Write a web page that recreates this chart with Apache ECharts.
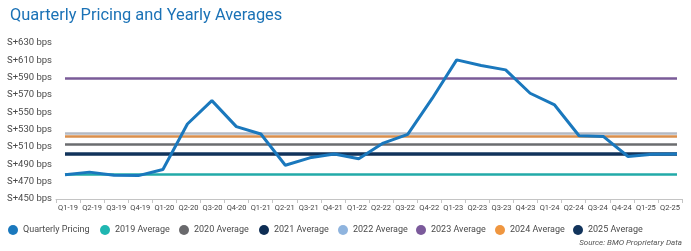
<!DOCTYPE html>
<html>
<head>
<meta charset="utf-8">
<script src="https://cdn.jsdelivr.net/npm/echarts@6/dist/echarts.min.js"></script>
<style>
  html, body { margin: 0; padding: 0; background: #fff; }
  #chart { width: 691px; height: 251px; }
</style>
</head>
<body>
<div id="chart"></div>
<script>
var FONT = 'Roboto, "Noto Sans", sans-serif';

var quarters = ['Q1-19','Q2-19','Q3-19','Q4-19','Q1-20','Q2-20','Q3-20','Q4-20','Q1-21','Q2-21','Q3-21','Q4-21','Q1-22',
                'Q2-22','Q3-22','Q4-22','Q1-23','Q2-23','Q3-23','Q4-23','Q1-24','Q2-24','Q3-24','Q4-24','Q1-25','Q2-25'];
var pricing = [478, 481, 477.5, 477, 484, 536.5, 563.5, 533.5, 525, 489, 497.5, 502, 496.5,
               514.5, 524.5, 566, 610.5, 604, 599, 572, 558.5, 523, 522, 499, 501.5, 502];
var avgNames = ['2019 Average','2020 Average','2021 Average','2022 Average','2023 Average','2024 Average','2025 Average'];
var avgValues = [478.5, 513, 502, 525.5, 589.5, 522.5, 502.5];
var avgColors = ['#22aaa8','#6b6c6f','#0e2e54','#b4bac4','#7a5b98','#da8f4c','#12345c'];
var avgLegendColors = ['#1fb6b1','#69696c','#0e2e54','#8fb4de','#7b5a9b','#ef9640','#12345c'];
var yTicks = { min: 450, max: 630, step: 20 };

var chart = echarts.init(document.getElementById('chart'));

var series = [];
avgNames.forEach(function(name, i){
    series.push({
        name: name,
        type: 'line',
        xAxisIndex: 1,
        yAxisIndex: 1,
        data: [],
        itemStyle: { color: avgLegendColors[i] },
        lineStyle: { color: avgColors[i], width: 2.5 },
        z: 2,
        markLine: {
            silent: true,
            symbol: 'none',
            animation: false,
            label: { show: false },
            lineStyle: { color: avgColors[i], width: 2.5, type: 'solid' },
            data: [{ yAxis: avgValues[i] }]
        }
    });
});
series.push({
    name: 'Quarterly Pricing',
    type: 'line',
    xAxisIndex: 1,
    yAxisIndex: 1,
    data: pricing,
    symbol: 'none',
    itemStyle: { color: '#1a78bd' },
    lineStyle: { color: '#1a78bd', width: 3 },
    z: 5
});

var legendOrder = ['Quarterly Pricing'].concat(avgNames);
var legendLeft = [8, 100, 179, 259, 338, 416, 495, 573];
var legends = legendOrder.map(function(name, i){
    return {
        data: [name],
        left: legendLeft[i],
        top: 225,
        icon: 'circle',
        itemWidth: 10,
        itemHeight: 10,
        itemGap: 0,
        padding: 0,
        selectedMode: false,
        textStyle: { fontFamily: FONT, fontSize: 9, color: '#4a4a4a' }
    };
});

var option = {
    animation: false,
    title: {
        text: 'Quarterly Pricing and Yearly Averages',
        left: 5,
        top: 3,
        textStyle: { fontFamily: FONT, fontSize: 16.4, fontWeight: 'normal', color: '#1b72b6' }
    },
    legend: legends,
    grid: [
        { left: 56, right: 9, top: 43, bottom: 52 },
        { left: 65, right: 14, top: 43, bottom: 52 }
    ],
    xAxis: [
        {
            type: 'category',
            gridIndex: 0,
            data: quarters,
            boundaryGap: true,
            axisLine: { lineStyle: { color: '#c4c4c4', width: 1 } },
            axisTick: { show: true, length: 4, lineStyle: { color: '#c4c4c4' } },
            axisLabel: { interval: 0, fontFamily: FONT, fontSize: 7.5, color: '#444', margin: 5 }
        },
        {
            type: 'category',
            gridIndex: 1,
            data: quarters,
            boundaryGap: false,
            show: false
        }
    ],
    yAxis: [
        {
            type: 'value',
            gridIndex: 0,
            min: yTicks.min,
            max: yTicks.max,
            interval: yTicks.step,
            axisLine: { show: false },
            axisTick: { show: false },
            splitLine: { show: false },
            axisLabel: {
                fontFamily: FONT, fontSize: 9.5, color: '#4a4a4a', margin: 4,
                formatter: function(v){ return 'S+' + v + ' bps'; }
            }
        },
        {
            type: 'value',
            gridIndex: 1,
            min: yTicks.min,
            max: yTicks.max,
            show: false,
            splitLine: { show: false }
        }
    ],
    graphic: [{
        type: 'text',
        right: 9,
        top: 239,
        style: {
            text: 'Source: BMO Proprietary Data',
            font: 'italic 8px ' + FONT,
            fill: '#555'
        }
    }],
    series: series
};
chart.setOption(option);
</script>
</body>
</html>
